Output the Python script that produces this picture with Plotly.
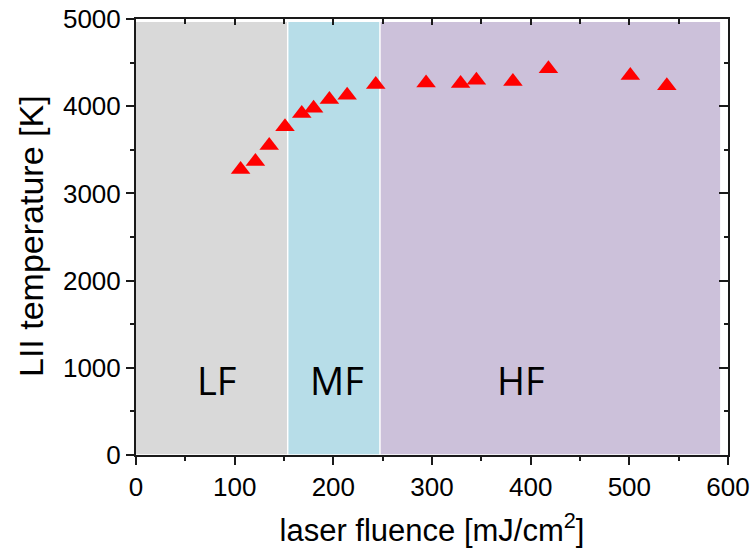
import plotly.graph_objects as go

# Data
fluence = [106, 121, 135, 151, 168, 180, 196, 214, 243, 294, 329, 345, 382, 418, 501, 538]
temperature = [3275, 3365, 3548, 3763, 3916, 3977, 4077, 4127, 4250, 4265, 4261, 4299, 4284, 4430, 4353, 4235]

# Fluence regimes
regimes = ["LF", "MF", "HF"]
regime_start = [0, 154.5, 248]
regime_end = [153, 246.5, 592]
regime_colors = ["#D9D9D9", "#B7DDE8", "#CCC1DA"]
label_x = [82, 204, 390]
label_y = [860, 860, 860]

x_ticks = [0, 100, 200, 300, 400, 500, 600]
y_ticks = [0, 1000, 2000, 3000, 4000, 5000]

AX = "#1a1a1a"
FONT = "Liberation Sans, Arial, sans-serif"

fig = go.Figure()

shapes = []
for x0, x1, c in zip(regime_start, regime_end, regime_colors):
    shapes.append(dict(type="rect", xref="x", yref="y", x0=x0, x1=x1, y0=10, y1=4965,
                       fillcolor=c, line=dict(width=0), layer="below"))

fig.add_trace(go.Scatter(x=fluence, y=temperature, mode="markers",
                         marker=dict(symbol="triangle-up", size=17, color="#FF0000",
                                     line=dict(width=0)),
                         showlegend=False, hoverinfo="x+y"))
# invisible trace to anchor the mirrored (top/right) axes
fig.add_trace(go.Scatter(x=fluence, y=temperature, mode="markers", xaxis="x2", yaxis="y2",
                         marker=dict(opacity=0), showlegend=False, hoverinfo="skip"))

annotations = []
for lab, lx, ly in zip(regimes, label_x, label_y):
    annotations.append(dict(x=lx, y=ly, xref="x", yref="y", text=lab, showarrow=False,
                            font=dict(family="Open Sans, sans-serif", size=38, color="black")))
# y-axis title placed as annotation to match reference position
annotations.append(dict(x=0, xref="paper", xshift=-105, y=(455 - 236) / 436, yref="paper",
                        text="LII temperature [K]", textangle=-90, showarrow=False,
                        xanchor="center", yanchor="middle",
                        font=dict(family=FONT, size=34, color="black")))

fig.update_layout(
    width=754, height=553,
    margin=dict(l=136, r=26, t=19, b=98),
    paper_bgcolor="white", plot_bgcolor="white",
    shapes=shapes, annotations=annotations,
    font=dict(family=FONT, color="black"),
    xaxis=dict(range=[0, 600], tickvals=x_ticks, ticks="outside", ticklen=8, tickwidth=1.5,
               tickcolor=AX, showline=True, linecolor=AX, linewidth=2, showgrid=False,
               zeroline=False, tickfont=dict(size=26), automargin=False,
               minor=dict(dtick=50, ticks="outside", ticklen=4, tickwidth=1.5, tickcolor=AX),
               title=dict(text="laser fluence [mJ/cm<sup>2</sup>]", font=dict(size=31), standoff=18)),
    yaxis=dict(range=[0, 5000], tickvals=y_ticks, ticks="outside", ticklen=8, tickwidth=1.5,
               tickcolor=AX, showline=True, linecolor=AX, linewidth=2, showgrid=False,
               zeroline=False, tickfont=dict(size=26), automargin=False,
               minor=dict(dtick=500, ticks="outside", ticklen=4, tickwidth=1.5, tickcolor=AX)),
    xaxis2=dict(range=[0, 600], overlaying="x", side="top", tickvals=x_ticks, ticks="inside",
                ticklen=6, tickwidth=1.5, tickcolor=AX, showline=True, linecolor=AX, linewidth=2,
                showticklabels=False, showgrid=False, zeroline=False, automargin=False,
                minor=dict(dtick=50, ticks="inside", ticklen=5, tickwidth=1.5, tickcolor=AX)),
    yaxis2=dict(range=[0, 5000], overlaying="y", side="right", tickvals=y_ticks, ticks="inside",
                ticklen=9, tickwidth=1.5, tickcolor=AX, showline=True, linecolor=AX, linewidth=2,
                showticklabels=False, showgrid=False, zeroline=False, automargin=False,
                minor=dict(dtick=500, ticks="inside", ticklen=4, tickwidth=1.5, tickcolor=AX)),
)

fig.write_html("out.html")
